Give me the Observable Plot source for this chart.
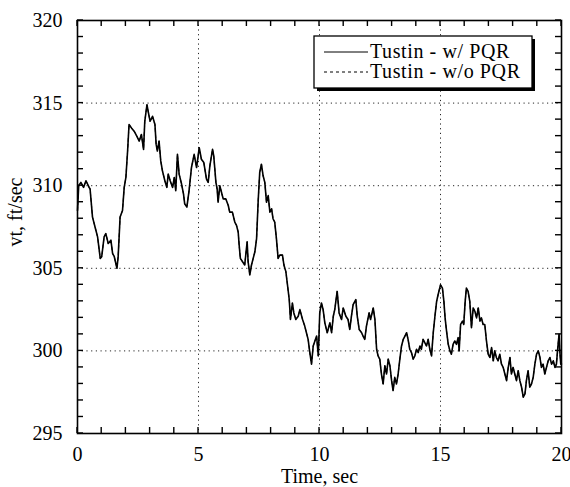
<!DOCTYPE html>
<html>
<head>
<meta charset="utf-8">
<script src="https://cdn.jsdelivr.net/npm/d3@7"></script>
<script src="https://cdn.jsdelivr.net/npm/@observablehq/plot@0.6"></script>
<style>
  html, body { margin: 0; padding: 0; background: #fff; }
  #chart { width: 570px; height: 487px; }
</style>
</head>
<body>
<div id="chart"></div>
<script>
// Time (sec)
const time = [
  0, 0.05, 0.14, 0.25, 0.35, 0.48, 0.52, 0.62, 0.76, 0.83, 0.94, 1.0, 1.1, 1.17, 1.27, 1.38, 1.45, 1.52, 1.63, 1.68,
  1.76, 1.86, 1.93, 2.0, 2.07, 2.13, 2.23, 2.34, 2.45, 2.55, 2.64, 2.73, 2.78, 2.87, 2.92, 3.0, 3.1, 3.2, 3.25, 3.3,
  3.37, 3.44, 3.51, 3.61, 3.69, 3.75, 3.83, 3.93, 4.0, 4.06, 4.13, 4.2, 4.3, 4.38, 4.43, 4.52, 4.61, 4.71, 4.82, 4.92,
  5.03, 5.12, 5.22, 5.33, 5.40, 5.47, 5.58, 5.63, 5.72, 5.77, 5.81, 5.88, 5.95, 6.02, 6.13, 6.23, 6.29, 6.40, 6.50, 6.57,
  6.64, 6.68, 6.73, 6.82, 6.91, 7.01, 7.05, 7.12, 7.19, 7.26, 7.33, 7.40, 7.47, 7.53, 7.60, 7.67, 7.74, 7.81, 7.88, 7.95,
  8.02, 8.08, 8.15, 8.22, 8.29, 8.36, 8.47, 8.53, 8.61, 8.66, 8.75, 8.80, 8.88, 8.94, 9.02, 9.12, 9.19, 9.30, 9.39, 9.46,
  9.53, 9.60, 9.67, 9.74, 9.88, 9.95, 10.01, 10.08, 10.15, 10.22, 10.32, 10.43, 10.50, 10.57, 10.63, 10.73, 10.81, 10.91, 10.98, 11.09,
  11.18, 11.25, 11.32, 11.39, 11.50, 11.56, 11.64, 11.74, 11.80, 11.87, 11.94, 12.05, 12.11, 12.22, 12.29, 12.36, 12.42, 12.49, 12.56, 12.63,
  12.70, 12.77, 12.84, 12.91, 12.98, 13.04, 13.11, 13.18, 13.25, 13.32, 13.39, 13.46, 13.53, 13.60, 13.66, 13.73, 13.80, 13.87, 13.94, 14.01,
  14.08, 14.15, 14.21, 14.28, 14.35, 14.42, 14.49, 14.56, 14.63, 14.70, 14.77, 14.84, 14.90, 15.00, 15.08, 15.14, 15.19, 15.25, 15.32, 15.39,
  15.45, 15.52, 15.59, 15.66, 15.73, 15.77, 15.83, 15.91, 15.96, 16.02, 16.07, 16.14, 16.21, 16.28, 16.35, 16.42, 16.49, 16.56, 16.63, 16.69,
  16.76, 16.83, 16.90, 16.97, 17.04, 17.11, 17.18, 17.24, 17.31, 17.38, 17.45, 17.52, 17.59, 17.66, 17.73, 17.80, 17.87, 17.93, 18.00, 18.07,
  18.14, 18.21, 18.28, 18.35, 18.42, 18.49, 18.55, 18.62, 18.69, 18.76, 18.83, 18.90, 18.97, 19.04, 19.11, 19.17, 19.24, 19.31, 19.38, 19.45,
  19.52, 19.59, 19.66, 19.73, 19.79, 19.86, 19.90, 19.93, 19.97, 20.0
];
// vt (ft/sec), Tustin w/ PQR
const vtWithPQR = [
  308.5, 310.0, 310.2, 309.9, 310.3, 309.9, 309.8, 308.1, 307.3, 306.9, 305.6, 305.7, 306.9, 307.1, 306.5, 306.7, 305.9, 305.7, 305.0, 305.7,
  308.1, 308.5, 309.9, 310.5, 312.1, 313.7, 313.5, 313.3, 313.0, 312.7, 313.1, 312.2, 313.9, 314.9, 314.5, 313.9, 314.2, 313.7, 312.5, 312.1,
  312.7, 311.5, 310.9, 310.3, 309.9, 310.7, 310.3, 309.9, 310.5, 309.7, 311.9, 310.7, 310.1, 309.5, 308.9, 308.7, 309.7, 311.1, 311.9, 311.1,
  312.3, 311.6, 311.4, 310.4, 310.2, 311.2, 312.2, 311.8, 310.2, 309.8, 309.0, 310.0, 309.6, 309.2, 309.2, 308.8, 308.4, 308.4, 307.8, 307.6,
  307.2, 306.4, 305.6, 305.4, 305.2, 306.6, 305.4, 304.6, 305.2, 305.6, 306.0, 306.8, 309.2, 310.8, 311.3, 310.6, 310.2, 309.0, 309.4, 308.4,
  308.6, 308.0, 307.8, 306.8, 305.6, 305.8, 305.8, 305.2, 304.8, 304.2, 303.1, 301.9, 302.9, 302.3, 301.9, 302.1, 302.5, 301.9, 301.5, 301.1,
  300.7, 299.9, 299.2, 300.3, 300.9, 299.7, 302.3, 302.9, 302.5, 301.7, 301.1, 301.7, 301.1, 302.1, 302.5, 303.6, 302.3, 301.9, 302.6, 302.1,
  301.9, 301.3, 302.1, 302.8, 303.1, 302.1, 301.3, 301.1, 300.9, 300.7, 301.5, 302.3, 301.9, 302.6, 301.9, 300.1, 299.7, 299.5, 298.6, 298.0,
  299.1, 298.6, 299.5, 299.1, 298.2, 297.6, 298.4, 298.0, 298.6, 299.5, 300.3, 300.7, 300.9, 301.1, 300.7, 300.1, 299.9, 299.5, 299.7, 300.1,
  299.9, 300.3, 300.1, 300.7, 300.5, 300.3, 300.7, 300.1, 299.7, 301.1, 302.1, 303.0, 303.4, 304.0, 303.8, 303.0, 302.0, 301.2, 300.4, 300.0,
  299.8, 300.4, 300.6, 300.4, 300.8, 300.0, 301.6, 301.8, 301.6, 303.0, 303.8, 303.6, 303.0, 301.4, 302.6, 302.4, 302.0, 302.6, 301.8, 302.0,
  301.6, 301.6, 300.6, 299.8, 299.6, 300.2, 299.4, 300.0, 299.6, 299.4, 299.8, 299.2, 299.0, 298.6, 298.2, 299.0, 299.6, 298.6, 299.0, 298.6,
  298.2, 298.8, 298.2, 297.8, 297.2, 297.4, 298.2, 298.8, 297.8, 298.0, 298.4, 299.2, 299.8, 300.0, 299.6, 299.0, 299.2, 298.6, 299.0, 299.4,
  299.6, 299.2, 299.4, 299.0, 299.2, 300.4, 301.0, 300.0, 299.2, 299.2
];
// Tustin w/o PQR overlaps the w/ PQR trace in the picture
const vtWithoutPQR = vtWithPQR;

const seriesNames = ["Tustin - w/ PQR", "Tustin - w/o PQR"];
const xTitle = "Time, sec";
const yTitle = "vt, ft/sec";
const xMajorTicks = [0, 5, 10, 15, 20];
const xMinorTicks = d3.range(0, 21, 1);
const yMajorTicks = [295, 300, 305, 310, 315, 320];
const yMinorTicks = d3.range(295, 321, 1);
const xGrid = [5, 10, 15];
const yGrid = [300, 305, 310, 315];

const dataA = time.map((t, i) => ({t, v: vtWithPQR[i]}));
const dataB = time.map((t, i) => ({t, v: vtWithoutPQR[i]}));

const font = "'Liberation Serif', 'Times New Roman', serif";
const W = 570, H = 487;
const mL = 77, mR = 9, mT = 20, mB = 54;
const tk = 6;

const chart = Plot.plot({
  width: W,
  height: H,
  marginLeft: mL,
  marginRight: mR,
  marginTop: mT,
  marginBottom: mB,
  style: {fontFamily: font, fontSize: "20px", color: "black", background: "white"},
  x: {domain: [0, 20]},
  y: {domain: [295, 320]},
  marks: [
    Plot.gridX(xGrid, {stroke: "black", strokeOpacity: 0.85, strokeDasharray: "1.2,3.5"}),
    Plot.gridY(yGrid, {stroke: "black", strokeOpacity: 0.85, strokeDasharray: "1.2,3.5"}),
    Plot.lineY(dataB, {x: "t", y: "v", stroke: "black", strokeWidth: 1, strokeDasharray: "3,3"}),
    Plot.lineY(dataA, {x: "t", y: "v", stroke: "black", strokeWidth: 1.6}),
    Plot.axisX(xMajorTicks, {anchor: "bottom", tickSize: 0, tickPadding: 13, label: xTitle, labelArrow: "none", labelAnchor: "center", labelOffset: 49, fontSize: 20}),
    Plot.axisY(yMajorTicks, {anchor: "left", tickSize: 0, tickPadding: 15, label: null, fontSize: 20}),
    Plot.frame({stroke: "black", strokeWidth: 1.6})
  ]
});

document.getElementById("chart").appendChild(chart);
const svg = d3.select(chart);
const sx = chart.scale("x"), sy = chart.scale("y");
const x0 = sx.range[0], x1 = sx.range[1];
const y0 = sy.range[0], y1 = sy.range[1]; // bottom, top

// inward minor ticks on all four sides, placed through Plot's scales
const tg = svg.append("g").attr("stroke", "black").attr("stroke-width", 1.4);
xMinorTicks.forEach(d => {
  const px = sx.apply(d);
  tg.append("line").attr("x1", px).attr("x2", px).attr("y1", y0).attr("y2", y0 - tk);
  tg.append("line").attr("x1", px).attr("x2", px).attr("y1", y1).attr("y2", y1 + tk);
});
yMinorTicks.forEach(d => {
  const py = sy.apply(d);
  tg.append("line").attr("y1", py).attr("y2", py).attr("x1", x0).attr("x2", x0 + tk);
  tg.append("line").attr("y1", py).attr("y2", py).attr("x1", x1).attr("x2", x1 - tk);
});

// y-axis title
svg.append("text")
  .attr("transform", "translate(22,212) rotate(-90)")
  .attr("text-anchor", "middle")
  .attr("font-family", font).attr("font-size", 20)
  .text(yTitle);

// Legend box (inside plot area, upper right)
const lg = svg.append("g").attr("font-family", font).attr("font-size", 20).attr("text-anchor", "start");
const bx = 314, by = 36, bw = 218, bh = 52;
lg.append("rect").attr("x", bx + 3).attr("y", by + 3).attr("width", bw).attr("height", bh).attr("fill", "black");
lg.append("rect").attr("x", bx).attr("y", by).attr("width", bw).attr("height", bh).attr("fill", "white").attr("stroke", "black").attr("stroke-width", 1.3);
seriesNames.forEach((name, i) => {
  const yy = by + 16 + i * 20;
  lg.append("line").attr("x1", bx + 10).attr("x2", bx + 54).attr("y1", yy).attr("y2", yy)
    .attr("stroke", "black").attr("stroke-width", 1).attr("stroke-dasharray", i === 0 ? null : "3,3");
  lg.append("text").attr("x", bx + 56).attr("y", yy + 6).attr("text-anchor", "start")
    .attr("letter-spacing", 0.6).text(name);
});
</script>
</body>
</html>
